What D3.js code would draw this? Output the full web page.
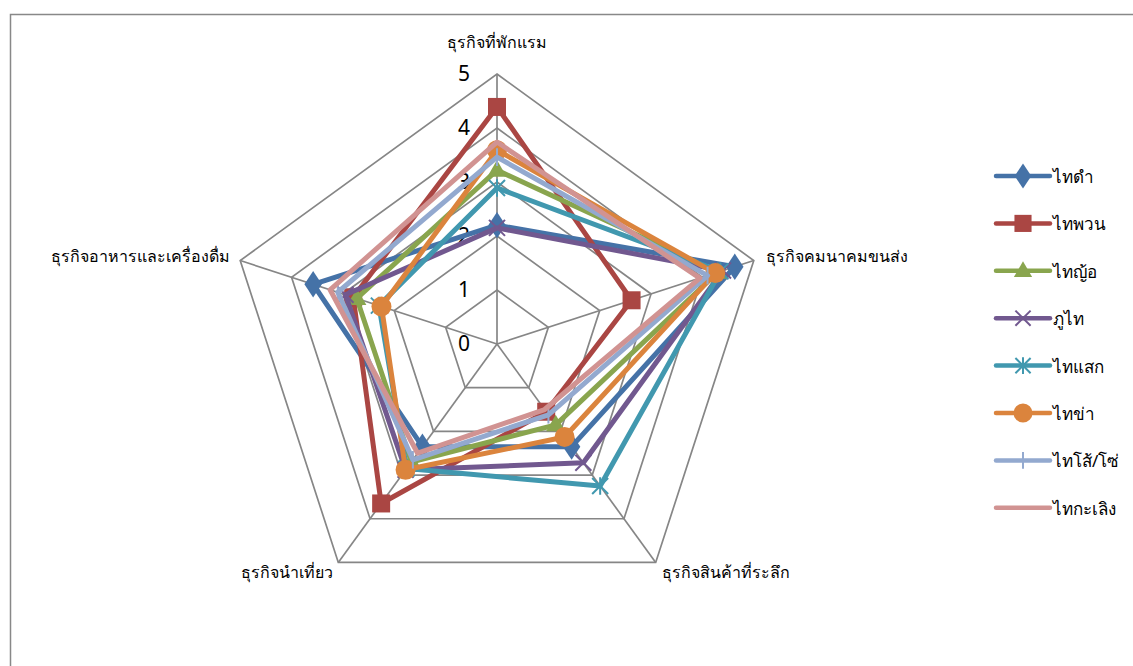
<!DOCTYPE html>
<html><head><meta charset="utf-8">
<script src="https://cdn.jsdelivr.net/npm/d3@7"></script>
<style>body{margin:0;background:#fff}svg{display:block}text{font-family:Tahoma,"Noto Sans","DejaVu Sans",sans-serif}</style>
</head><body><svg id="c" width="1133" height="666"></svg>
<script>
const categories = ["ธุรกิจที่พักแรม","ธุรกิจคมนาคมขนส่ง","ธุรกิจสินค้าที่ระลึก","ธุรกิจนำเที่ยว","ธุรกิจอาหารและเครื่องดื่ม"];
const seriesNames = ["ไทดำ","ไทพวน","ไทญ้อ","ภูไท","ไทแสก","ไทข่า","ไทโส้/โซ่","ไทกะเลิง"];
const s_thaidam = [2.2, 4.63, 2.35, 2.35, 3.58];
const s_thaiphuan = [4.39, 2.62, 1.55, 3.65, 2.8];
const s_thaiyo = [3.22, 4.3, 1.85, 2.7, 2.73];
const s_phuthai = [2.15, 4.4, 2.72, 2.88, 2.95];
const s_thaisaek = [2.89, 4.35, 3.25, 2.85, 2.3];
const s_thaikha = [3.59, 4.25, 2.13, 2.88, 2.25];
const s_thaiso = [3.46, 4.1, 1.62, 2.65, 3.1];
const s_thaikaloeng = [3.74, 3.95, 1.5, 2.5, 3.25];
const tickLabels = ["0","1","2","3","4","5"];

const seriesValues = [s_thaidam,s_thaiphuan,s_thaiyo,s_phuthai,s_thaisaek,s_thaikha,s_thaiso,s_thaikaloeng];
const colors = ["#4572A7","#AA4643","#89A54E","#71588F","#4198AF","#DB843D","#93A9CF","#D19392"];
const markers = ["diamond","square","triangle","x","asterisk","circle","plus","none"];

const svg = d3.select("#c");
svg.append("rect").attr("x",10.5).attr("y",14.5).attr("width",1200).attr("height",800)
  .attr("fill","none").attr("stroke","#888").attr("stroke-width",1.5);

const cx = 497, cy = 344, R = 270;
const r = d3.scaleLinear().domain([0,5]).range([0,R]);
const ang = d3.scalePoint().domain(categories).range([0, 2*Math.PI*4/5]);
const pt = (c, v) => { const a = ang(c); return [cx + r(v)*Math.sin(a), cy - r(v)*Math.cos(a)]; };

const g = svg.append("g");
tickLabels.forEach((t,i) => {
  if (i===0) return;
  const pts = categories.map(c => pt(c, +t));
  g.append("polygon").attr("points", pts.map(p=>p.join(",")).join(" "))
    .attr("fill","none").attr("stroke","#868686").attr("stroke-width",1.7);
});
categories.forEach(c => {
  const p = pt(c, 5);
  g.append("line").attr("x1",cx).attr("y1",cy).attr("x2",p[0]).attr("y2",p[1])
    .attr("stroke","#868686").attr("stroke-width",1.7);
});
tickLabels.forEach(t => {
  g.append("text").attr("x", cx-27).attr("y", cy - r(+t) + 7).attr("text-anchor","end")
    .attr("font-size",21).attr("fill","#000").text(t);
});
const labelPos = [
  {dx:0, dy:-32, anchor:"middle"},
  {dx:12, dy:-5, anchor:"start"},
  {dx:6, dy:10, anchor:"start"},
  {dx:-5, dy:10, anchor:"end"},
  {dx:-10, dy:-5, anchor:"end"}
];
categories.forEach((c,i) => {
  const p = pt(c,5);
  g.append("text").attr("x", p[0]+labelPos[i].dx).attr("y", p[1]+labelPos[i].dy+6)
    .attr("text-anchor", labelPos[i].anchor).attr("font-size",16).attr("fill","#000").text(c);
});

function drawMarker(sel, type, x, y, color, scale) {
  const s = scale || 1;
  if (type==="diamond") sel.append("path").attr("d", d3.symbol(d3.symbolDiamond, 200*s*s)()).attr("transform",`translate(${x},${y}) scale(1.15,1)`).attr("fill",color);
  else if (type==="square") sel.append("rect").attr("x",x-9*s).attr("y",y-9*s).attr("width",18*s).attr("height",18*s).attr("fill",color);
  else if (type==="triangle") sel.append("path").attr("d", d3.symbol(d3.symbolTriangle, 160*s*s)()).attr("transform",`translate(${x},${y+1})`).attr("fill",color);
  else if (type==="circle") sel.append("circle").attr("cx",x).attr("cy",y).attr("r",10*s).attr("fill",color);
  else if (type==="x" || type==="asterisk" || type==="plus") {
    const a = 8*s;
    let d = "";
    if (type!=="plus") d += `M${x-a},${y-a}L${x+a},${y+a}M${x-a},${y+a}L${x+a},${y-a}`;
    if (type!=="x") d += `M${x},${y-a*1.1}L${x},${y+a*1.1}`;
    sel.append("path").attr("d",d).attr("stroke",color).attr("stroke-width",2).attr("fill","none");
  }
}

const line = d3.line().curve(d3.curveLinearClosed);
seriesValues.forEach((vals,i) => {
  const pts = categories.map((c,j) => pt(c, vals[j]));
  const sg = g.append("g");
  sg.append("path").attr("d", line(pts)).attr("fill","none").attr("stroke",colors[i])
    .attr("stroke-width",5).attr("stroke-linejoin","round");
  pts.forEach(p => drawMarker(sg, markers[i], p[0], p[1], colors[i]));
});

const lg = svg.append("g");
seriesNames.forEach((n,i) => {
  const y = 176 + i*47.4;
  lg.append("line").attr("x1",996).attr("x2",1050).attr("y1",y).attr("y2",y)
    .attr("stroke",colors[i]).attr("stroke-width",4.5).attr("stroke-linecap","round");
  drawMarker(lg, markers[i], 1023, y, colors[i], 0.95);
  lg.append("text").attr("x",1053).attr("y",y+7).attr("font-size",17).attr("fill","#000").text(n);
});
</script></body></html>
